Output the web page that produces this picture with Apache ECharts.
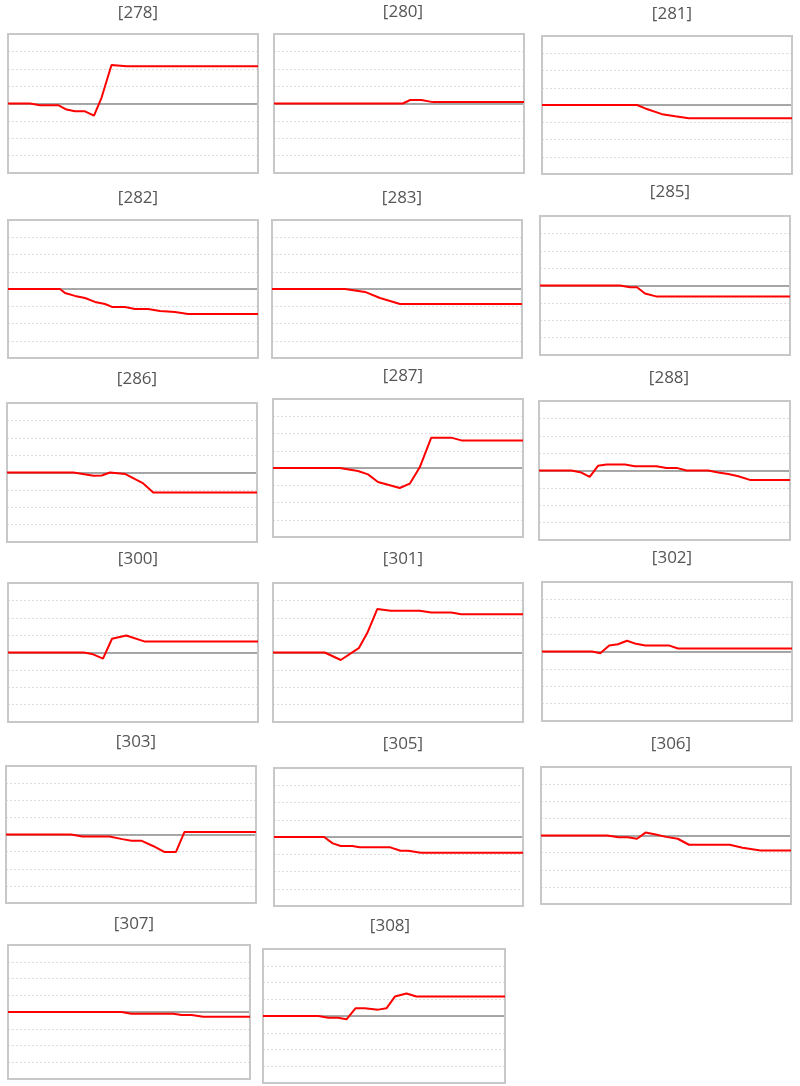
<!DOCTYPE html>
<html><head><meta charset="utf-8">
<script src="https://cdn.jsdelivr.net/npm/echarts@6/dist/echarts.min.js"></script>
<style>html,body{margin:0;padding:0;background:#fff}#c{width:800px;height:1086px}</style>
</head><body><div id="c"></div>
<script>
// Panel labels
const labels = ['[278]','[280]','[281]','[282]','[283]','[285]','[286]','[287]','[288]','[300]','[301]','[302]','[303]','[305]','[306]','[307]','[308]'];
// Y-axis ticks (gridlines) shared by every panel
const yTicks = [-4,-3,-2,-1,0,1,2,3,4];
// Series: [x position (% of time span), value]
const s278 = [[0,0],[8.8,0],[12.8,-0.1],[20.1,-0.1],[23.4,-0.35],[26.8,-0.45],[30.8,-0.45],[34.4,-0.7],[37.4,0.33],[41.4,2.22],[47.4,2.14],[100,2.14]];
const s280 = [[0,0],[51.5,0],[54.5,0.2],[59,0.2],[63.5,0.08],[100,0.08]];
const s281 = [[0,0],[38,0],[41.3,-0.2],[48,-0.53],[53.3,-0.65],[58.7,-0.77],[100,-0.77]];
const s282 = [[0,0],[20.8,0],[22.8,-0.23],[26.8,-0.4],[30.8,-0.52],[34.8,-0.75],[38.8,-0.87],[41.6,-1.04],[46.8,-1.04],[50.8,-1.16],[56,-1.16],[60.8,-1.28],[66.8,-1.33],[72,-1.45],[100,-1.45]];
const s283 = [[0,0],[29.2,0],[37.2,-0.17],[43.2,-0.52],[51.2,-0.87],[100,-0.87]];
const s285 = [[0,0],[32,0],[36,-0.1],[38.8,-0.1],[42,-0.46],[46.8,-0.64],[100,-0.64]];
const s286 = [[0,0],[26.6,0],[34.6,-0.19],[37.9,-0.17],[41.2,0],[47.2,-0.08],[54.5,-0.63],[58.5,-1.15],[100,-1.15]];
const s287 = [[0,0],[26.7,0],[34,-0.17],[38,-0.37],[42,-0.81],[50.7,-1.16],[54.7,-0.91],[58.7,0.04],[63.3,1.76],[71.3,1.76],[75.3,1.6],[100,1.6]];
const s288 = [[0,0],[12.9,0],[16.9,-0.12],[20.2,-0.37],[23.5,0.27],[26.9,0.35],[34.2,0.35],[38.2,0.25],[46.8,0.25],[50.8,0.15],[54.8,0.15],[58.8,0],[67.4,0],[71.4,-0.12],[75.4,-0.2],[79.4,-0.33],[84,-0.54],[100,-0.54]];
const s300 = [[0,0],[30.3,0],[33.6,-0.08],[38,-0.35],[41.6,0.79],[47.3,0.98],[54.5,0.64],[100,0.64]];
const s301 = [[0,0],[20.7,0],[27.1,-0.43],[34.3,0.25],[37.7,1.12],[41.7,2.5],[47.1,2.4],[58.7,2.4],[63.3,2.3],[71.3,2.3],[75.3,2.2],[100,2.2]];
const s302 = [[0,0],[20,0],[23.3,-0.1],[26.9,0.35],[30.4,0.42],[34,0.62],[37.6,0.44],[41.3,0.35],[50.7,0.35],[54.4,0.17],[100,0.17]];
const s303 = [[0,0],[26,0],[30.6,-0.12],[41.4,-0.12],[46.5,-0.27],[50.2,-0.37],[54.3,-0.37],[58.8,-0.67],[63.3,-1.02],[68,-1.02],[71.4,0.15],[100,0.15]];
const s305 = [[0,0],[20.1,0],[23.6,-0.37],[26.8,-0.52],[31.4,-0.52],[34.4,-0.6],[46.7,-0.6],[50.8,-0.8],[53.9,-0.8],[59,-0.91],[100,-0.91]];
const s306 = [[0,0],[26.5,0],[31,-0.1],[34.7,-0.1],[38.4,-0.19],[41.8,0.17],[45.9,0.06],[50,-0.08],[54.7,-0.19],[59.2,-0.54],[75.5,-0.54],[80.6,-0.71],[87.8,-0.88],[100,-0.88]];
const s307 = [[0,0],[46.9,0],[51,-0.1],[68.3,-0.1],[71.7,-0.18],[75.9,-0.18],[80.7,-0.28],[100,-0.28]];
const s308 = [[0,0],[22.8,0],[27,-0.1],[31,-0.1],[34.5,-0.2],[38.2,0.46],[42,0.46],[47.6,0.38],[51,0.46],[54.5,1.16],[59.3,1.34],[63.4,1.16],[100,1.16]];
const seriesData = [s278,s280,s281,s282,s283,s285,s286,s287,s288,s300,s301,s302,s303,s305,s306,s307,s308];

// Layout of each panel: title centre x, title centre y, box left, top, right, bottom
const layout = [
  [133,12, 8,34,258,173],[398,11, 274,34,524,173],[667,13, 542,36,792,174],
  [133,197, 8,220,258,358],[397,197, 272,220,522,358],[665,191, 540,216,790,355],
  [132,378, 7,403,257,542],[398,375, 273,399,523,537],[664,377, 539,401,790,540],
  [133,558, 8,583,258,722],[398,558, 273,583,523,722],[667,557, 542,582,792,721],
  [131,741, 6,766,256,903],[398,743, 274,768,523,906],[666,743, 541,767,791,904],
  [129,923, 8,945,250,1079],[385,925, 263,949,505,1083]
];

const grids=[], xAxes=[], yAxes=[], series=[], titles=[];
labels.forEach((lab,i)=>{
  const L = layout[i];
  titles.push({text:lab, left:L[0], top:L[1]-12, textAlign:'center',
    textStyle:{fontFamily:'Open Sans', fontSize:17, fontWeight:'normal', color:'#555'}});
  grids.push({left:L[2], top:L[3], width:L[4]-L[2], height:L[5]-L[3], show:true,
    borderColor:'#c8c8c8', borderWidth:2, backgroundColor:'transparent', z:3});
  xAxes.push({type:'value', gridIndex:i, min:0, max:100,
    axisLine:{show:true, onZero:true, lineStyle:{color:'#8c8c8c', width:1.5}},
    axisTick:{show:false}, axisLabel:{show:false}, splitLine:{show:false}});
  yAxes.push({type:'value', gridIndex:i, min:yTicks[0], max:yTicks[yTicks.length-1], interval:1,
    axisLine:{show:false}, axisTick:{show:false}, axisLabel:{show:false},
    splitLine:{show:true, lineStyle:{color:'#dcdcdc', type:[2,2], width:1}}});
  series.push({type:'line', xAxisIndex:i, yAxisIndex:i, data:seriesData[i], showSymbol:false,
    lineStyle:{color:'#ff0000', width:2}, animation:false, z:6});
});

const chart = echarts.init(document.getElementById('c'));
chart.setOption({animation:false, title:titles, grid:grids, xAxis:xAxes, yAxis:yAxes, series:series});
</script></body></html>
